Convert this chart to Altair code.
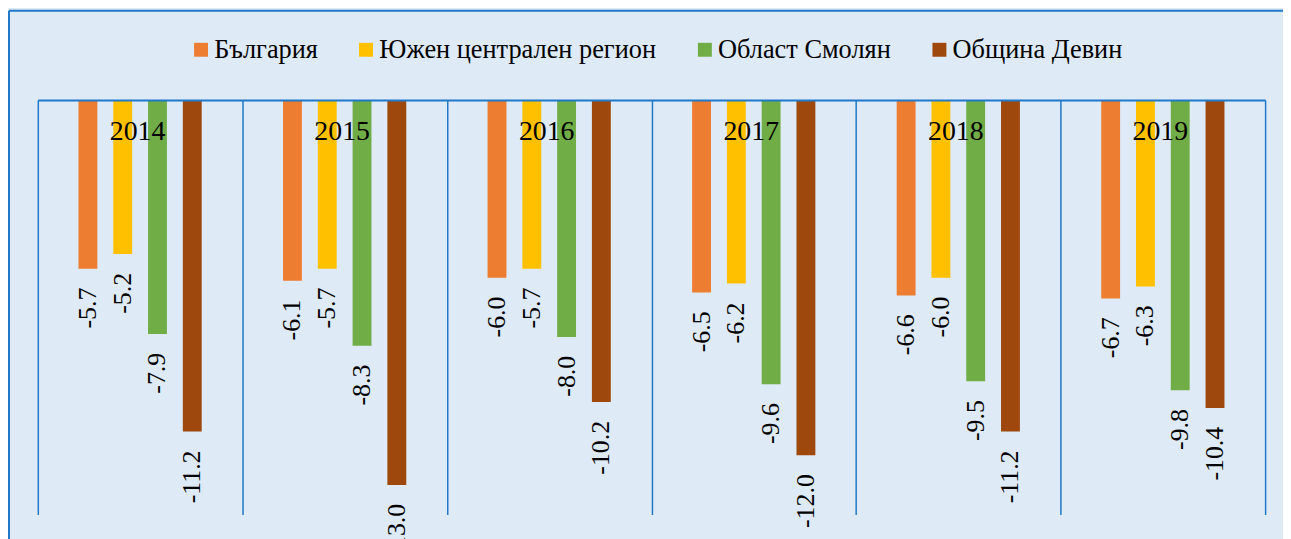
import altair as alt
import pandas as pd

years = ["2014", "2015", "2016", "2017", "2018", "2019"]
series = ["България", "Южен централен регион", "Област Смолян", "Община Девин"]
colors = ["#ED7D31", "#FFC000", "#70AD47", "#9E480E"]
bulgaria = [-5.7, -6.1, -6.0, -6.5, -6.6, -6.7]
south_central = [-5.2, -5.7, -5.7, -6.2, -6.0, -6.3]
smolyan = [-7.9, -8.3, -8.0, -9.6, -9.5, -9.8]
devin = [-11.2, -13.0, -10.2, -12.0, -11.2, -10.4]

rows = []
for s, vals in zip(series, [bulgaria, south_central, smolyan, devin]):
    for y, v in zip(years, vals):
        rows.append({"year": y, "series": s, "value": v})
df = pd.DataFrame(rows)

BLUE = "#1F78C8"
BG = "#DEEAF6"
FONT = "Times New Roman, Liberation Serif, serif"

x_enc = alt.X(
    "year:N",
    sort=years,
    scale=alt.Scale(paddingInner=0, paddingOuter=0),
    axis=alt.Axis(
        orient="top", title=None, ticks=False, labels=True, labelAngle=0,
        labelFont=FONT, labelFontSize=28, labelColor="black",
        labelBaseline="middle", labelPadding=-32, labelOffset=-3,
        labelAlign="center",
        domain=True, domainColor=BLUE, domainWidth=2,
        grid=True, gridColor=BLUE, gridWidth=1.5, tickBand="extent",
        zindex=1,
    ),
)
xoff = alt.XOffset("series:N", sort=series,
                   scale=alt.Scale(paddingInner=0, paddingOuter=0.94))
y_enc = alt.Y("value:Q", scale=alt.Scale(domain=[-14, 0], nice=False, zero=True), axis=None)

bars = alt.Chart(df).mark_bar(width=19).encode(
    x=x_enc,
    xOffset=xoff,
    y=y_enc,
    color=alt.Color(
        "series:N", sort=series,
        scale=alt.Scale(domain=series, range=colors),
        legend=alt.Legend(
            title=None, orient="none", direction="horizontal",
            legendX=151, legendY=-64, columns=4,
            symbolType="square", symbolSize=196, symbolStrokeWidth=0,
            labelFont=FONT, labelFontSize=26.5, labelColor="black",
            labelOffset=0, labelLimit=500, columnPadding=35, padding=0,
        ),
    ),
)

labels = alt.Chart(df).transform_calculate(
    label="replace(format(datum.value, '.1f'), '\u2212', '-')"
).mark_text(
    angle=270, align="right", baseline="middle", dx=-19,
    font=FONT, fontSize=26, color="black",
).encode(
    x=alt.X("year:N", sort=years),
    xOffset=alt.XOffset("series:N", sort=series),
    y=alt.Y("value:Q"),
    text=alt.Text("label:N"),
)

one = pd.DataFrame({"k": [0]})
frame_top = alt.Chart(one).mark_rule(color=BLUE, strokeWidth=2, clip=False).encode(
    x=alt.value(-29), x2=alt.value(1400), y=alt.value(-90)
)
frame_left = alt.Chart(one).mark_rule(color=BLUE, strokeWidth=2, clip=False).encode(
    x=alt.value(-29), y=alt.value(-90), y2=alt.value(700)
)

chart = alt.layer(bars, labels, frame_top, frame_left).properties(
    width=1235, height=417,
    autosize=alt.AutoSizeParams(type="none"),
    padding={"left": 30, "top": 91, "right": 18, "bottom": 23},
    background=BG,
).configure_view(stroke=None)

chart.save("out.html", embed_options={"renderer": "svg", "actions": False})
